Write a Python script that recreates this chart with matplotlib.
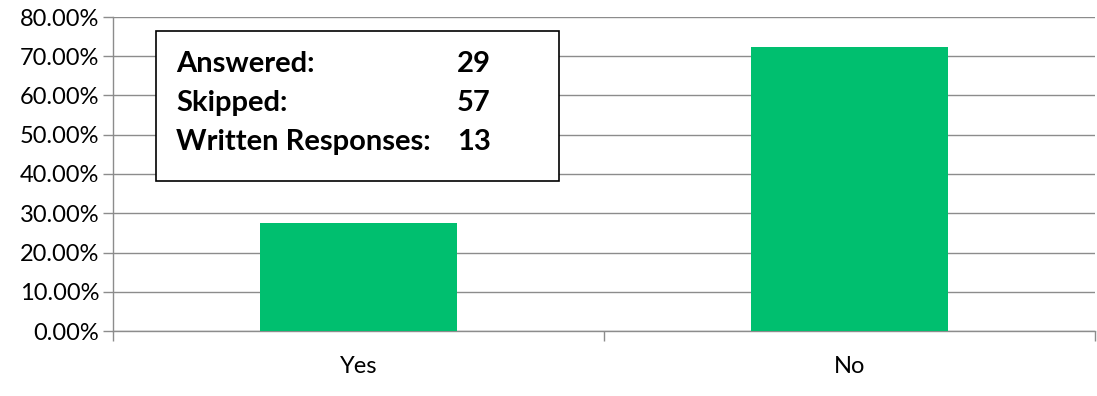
import matplotlib
matplotlib.use("Agg")
import matplotlib.pyplot as plt
from matplotlib.patches import Rectangle
from matplotlib.ticker import PercentFormatter, FixedLocator

categories = ["Yes", "No"]
shares = [27.59, 72.41]
stats_labels = ["Answered:", "Skipped:", "Written Responses:"]
stats_values = [29, 57, 13]

bar_color = "#00BF6F"
grid_color = "#8C8C8C"

plt.rcParams["font.family"] = ["Lato", "DejaVu Sans"]

fig = plt.figure(figsize=(10.97, 3.96), dpi=100)
ax = fig.add_axes([113 / 1097, 1 - 331 / 396, 982 / 1097, 314 / 396])

x = list(range(len(categories)))
ax.bar(x, shares, width=0.4, color=bar_color, zorder=3)

ax.set_xlim(-0.5, len(categories) - 0.5)
ax.set_ylim(0, 80)
ax.set_yticks(range(0, 81, 10))
ax.yaxis.set_major_formatter(PercentFormatter(decimals=2))
ax.grid(axis="y", color=grid_color, linewidth=1.0, zorder=0)

# category labels without ticks, boundary ticks between categories
ax.set_xticks(x)
ax.set_xticklabels(categories)
ax.tick_params(axis="x", which="major", length=0, pad=18, labelsize=17)
ax.xaxis.set_minor_locator(FixedLocator([i - 0.5 for i in range(len(categories) + 1)]))
ax.tick_params(axis="x", which="minor", length=7, color=grid_color, width=1)
ax.tick_params(axis="y", length=7, color=grid_color, width=1, labelsize=17, pad=3)

for side in ("top", "right"):
    ax.spines[side].set_visible(False)
for side in ("left", "bottom"):
    ax.spines[side].set_color(grid_color)
    ax.spines[side].set_linewidth(1.0)

# summary box
W, H = 1097, 396
box = Rectangle((156 / W, 1 - 181 / H), 403 / W, 150 / H, transform=fig.transFigure,
                facecolor="white", edgecolor="black", linewidth=1.2, zorder=5)
fig.patches.append(box)
for i, (lab, val) in enumerate(zip(stats_labels, stats_values)):
    yy = 1 - (72 + 39 * i) / H
    fig.text(176 / W, yy, lab, fontsize=21, fontweight="bold", va="baseline", ha="left", zorder=6)
    fig.text(457 / W, yy, str(val), fontsize=21, fontweight="bold", va="baseline", ha="left", zorder=6)

fig.savefig("out.png", dpi=100)
